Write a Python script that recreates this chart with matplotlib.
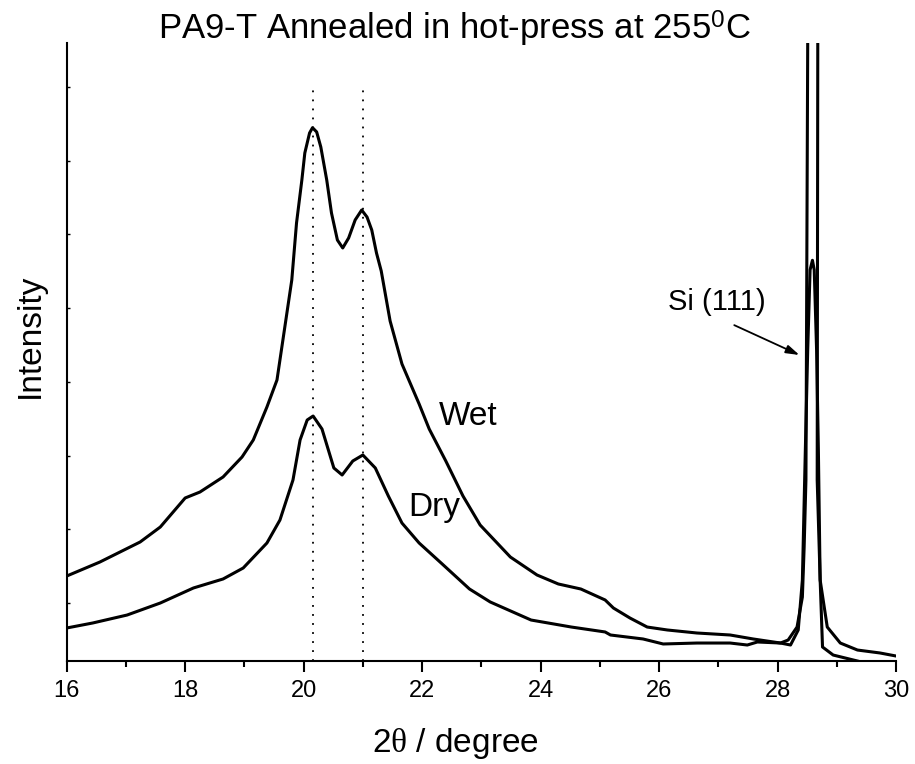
import matplotlib
matplotlib.use('Agg')
import matplotlib.pyplot as plt
from matplotlib.ticker import MultipleLocator

plt.rcParams['font.family'] = ['Liberation Sans', 'DejaVu Sans']
plt.rcParams['mathtext.fontset'] = 'custom'
plt.rcParams['mathtext.rm'] = 'Liberation Sans'
plt.rcParams['mathtext.it'] = 'Liberation Serif'

# wet sample (2theta, intensity a.u.)
wet_x = [16.00, 16.56, 17.24, 17.58, 18.00, 18.25, 18.64, 18.96, 19.15, 19.38,
         19.55, 19.80, 19.88, 19.97, 20.02, 20.10, 20.15, 20.22, 20.29, 20.39,
         20.47, 20.57, 20.66, 20.76, 20.87, 20.98, 21.07, 21.15, 21.23, 21.31,
         21.46, 21.66, 21.95, 22.12, 22.40, 22.69, 22.98, 23.49, 23.94, 24.30,
         24.68, 25.09, 25.23, 25.51, 25.80, 26.14, 26.64, 27.20, 27.59, 28.05,
         28.18, 28.33, 28.42, 28.45, 28.48, 28.51, 28.59, 28.68, 28.67, 28.72,
         28.84, 29.06, 29.35, 29.73, 30.00]
wet_y = [0.366, 0.556, 0.828, 1.031, 1.425, 1.506, 1.710, 1.981, 2.212, 2.659,
         3.026, 4.383, 5.156, 5.739, 6.106, 6.377, 6.449, 6.391, 6.187, 5.739,
         5.292, 4.925, 4.817, 4.953, 5.197, 5.332, 5.237, 5.061, 4.749, 4.505,
         3.826, 3.243, 2.700, 2.361, 1.927, 1.452, 1.058, 0.624, 0.380, 0.258,
         0.190, 0.041, -0.068, -0.204, -0.326, -0.366, -0.407, -0.434, -0.488, -0.543,
         -0.502, -0.326, 0.081, 0.760, 1.669, 7.600, 15.00, 7.600, 1.669, 0.312,
         -0.326, -0.543, -0.638, -0.678, -0.719]

# dry sample
dry_x = [16.00, 16.44, 17.02, 17.58, 18.14, 18.64, 18.98, 19.38, 19.60, 19.82,
         19.94, 20.06, 20.16, 20.31, 20.51, 20.65, 20.83, 21.00, 21.21, 21.43,
         21.66, 21.95, 22.34, 22.80, 23.15, 23.84, 24.52, 25.09, 25.18, 25.73,
         26.07, 26.64, 27.20, 27.49, 27.66, 28.05, 28.22, 28.35, 28.42, 28.47,
         28.51, 28.55, 28.59, 28.62, 28.66, 28.69, 28.72, 28.76, 28.94, 29.35]
dry_y = [-0.339, -0.271, -0.163, 0.000, 0.204, 0.326, 0.475, 0.814, 1.126, 1.669,
         2.212, 2.483, 2.537, 2.361, 1.832, 1.737, 1.927, 2.008, 1.832, 1.452,
         1.085, 0.814, 0.529, 0.190, 0.014, -0.231, -0.326, -0.393, -0.434, -0.488,
         -0.556, -0.543, -0.543, -0.570, -0.529, -0.543, -0.570, -0.366, 0.312, 2.08,
         3.43, 4.52, 4.65, 4.52, 3.43, 2.08, 0.312, -0.597, -0.706, -0.787]

peak_lines = [20.15, 21.0]

fig = plt.figure(figsize=(9.15, 7.64), dpi=100)
ax = fig.add_axes([0.0729, 0.1348, 0.9063, 0.8089])

ax.plot(wet_x, wet_y, color='black', lw=2.2, solid_joinstyle='round')
ax.plot(dry_x, dry_y, color='black', lw=2.2, solid_joinstyle='round')
for xp in peak_lines:
    ax.plot([xp, xp], [-0.787, 7.0], color='black', lw=1.3, linestyle=(0, (1, 4)))

ax.text(22.29, 2.415, 'Wet', fontsize=24)
ax.text(21.77, 1.18, 'Dry', fontsize=24)
ax.text(26.15, 3.975, 'Si (111)', fontsize=21)
ax.annotate('', xy=(28.37, 3.365), xytext=(27.27, 3.77),
            arrowprops=dict(arrowstyle='-|>,head_length=0.8,head_width=0.25',
                            color='black', lw=1.3, shrinkA=0, shrinkB=0))

ax.set_xlim(16, 30)
ax.set_ylim(-0.787, 7.598)
ax.xaxis.set_major_locator(MultipleLocator(2))
ax.xaxis.set_minor_locator(MultipleLocator(1))
ax.yaxis.set_major_locator(MultipleLocator(1))
ax.tick_params(axis='x', which='major', direction='out', length=8, width=1.5,
               labelsize=17, pad=6)
ax.tick_params(axis='x', which='minor', direction='out', length=4.5, width=1.5)
ax.tick_params(axis='y', which='major', direction='in', length=2.5, width=1,
               labelleft=False)
for side in ['top', 'right']:
    ax.spines[side].set_visible(False)
for side in ['left', 'bottom']:
    ax.spines[side].set_linewidth(1.5)

ax.set_xlabel('2$\\theta$ / degree', fontsize=24)
ax.xaxis.set_label_coords(0.469, -0.105)
ax.set_ylabel('Intensity', fontsize=24)
ax.yaxis.set_label_coords(-0.025, 0.527)
fig.text(0.497, 0.988, 'PA9-T Annealed in hot-press at 255$^0$C', fontsize=25,
         ha='center', va='top')

plt.savefig('out.png', dpi=100)
